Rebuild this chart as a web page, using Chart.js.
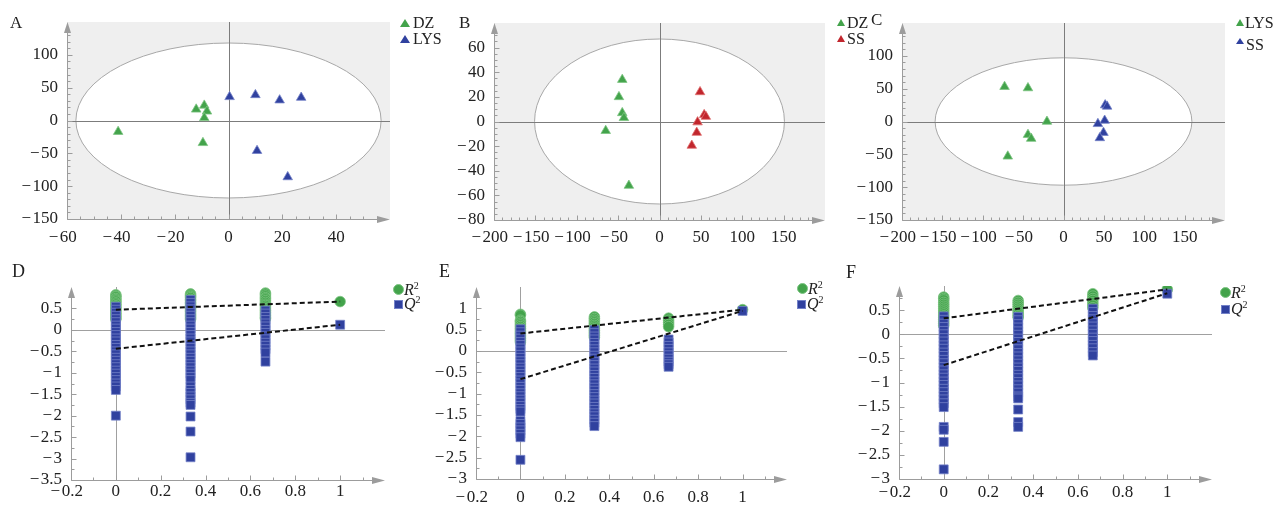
<!DOCTYPE html>
<html>
<head>
<meta charset="utf-8">
<title>Score plots and permutation tests</title>
<script src="https://cdn.jsdelivr.net/npm/chart.js@4.4.1/dist/chart.umd.min.js"></script>
<style>
  body { margin: 0; width: 1276px; height: 505px; background: #fff; position: relative; overflow: hidden; }
  canvas { position: absolute; }
  .txt { position: absolute; line-height: 1; white-space: nowrap; color: #222;
         font-family: "Liberation Serif", "Times New Roman", serif; }
  .txt sup { font-size: 10px; line-height: 0; vertical-align: 6px; font-style: normal; }
  .mk { position: absolute; box-sizing: border-box; }
</style>
</head>
<body>
<script>
// ---- score plots, values ----
const aDZ  = [[-41, -17], [-12, 17], [-9, 23], [-8, 14], [-9, 4], [-9.5, -34]];
const aLYS = [[0.4, 36], [10, 39], [19, 31], [27, 35], [10.6, -46], [22, -86]];
const bDZ  = [[-45, 34], [-49, 20], [-45, 7], [-43, 3], [-65, -7.5], [-37, -52]];
const bSS  = [[49, 24], [54, 5.4], [56, 4], [46, -0.5], [45, -9], [39, -19.5]];
const cLYS = [[-73, 53], [-44, 51], [-20.5, 0], [-44, -20], [-40, -26], [-69, -53]];
const cSS  = [[51.6, 25], [54, 23], [51, 1.5], [42.6, -3.5], [49.5, -17], [45, -25]];

// Hotelling T2 ellipse half axes (x, y)
const aEllipse = [56.7, 118];
const bEllipse = [151, 67];
const cEllipse = [159, 97];

// ---- permutation tests ----
const permX = [0, 0.333, 0.667, 1];

const dR2 = [
  [0.82, 0.79, 0.77, 0.73, 0.7, 0.67, 0.63, 0.6, 0.56, 0.53, 0.49, 0.46, 0.42, 0.38, 0.35, 0.31, 0.28, 0.25],
  [0.84, 0.81, 0.78, 0.75, 0.71, 0.68, 0.64, 0.61, 0.57, 0.53, 0.5, 0.46, 0.43, 0.39, 0.35, 0.32, 0.28, 0.25],
  [0.86, 0.83, 0.79, 0.75, 0.72, 0.68, 0.64, 0.6, 0.57, 0.53, 0.49, 0.45, 0.41, 0.37, 0.33, 0.29, 0.26],
  [0.66]
];
const dQ2 = [
  [0.54, 0.47, 0.4, 0.33, 0.25, 0.18, 0.1, 0.03, -0.05, -0.12, -0.2, -0.27, -0.35, -0.42, -0.5, -0.57, -0.65,
   -0.72, -0.8, -0.87, -0.95, -1.02, -1.1, -1.17, -1.25, -1.32, -1.4, -2.0],
  [0.7, 0.63, 0.55, 0.48, 0.4, 0.33, 0.25, 0.18, 0.1, 0.03, -0.05, -0.12, -0.2, -0.27, -0.35, -0.42, -0.5, -0.57,
   -0.65, -0.72, -0.8, -0.87, -0.95, -1.02, -1.1, -1.17, -1.32, -1.4, -1.47, -1.55, -1.62, -1.7, -1.75,
   -2.02, -2.37, -2.97],
  [0.45, 0.38, 0.3, 0.23, 0.15, 0.08, 0, -0.07, -0.15, -0.22, -0.3, -0.37, -0.45, -0.53, -0.74],
  [0.12]
];
const dR2Line = [[0, 0.47], [1, 0.66]];
const dQ2Line = [[0, -0.44], [1, 0.12]];

const eR2 = [
  [0.86, 0.84, 0.72, 0.69, 0.65, 0.61, 0.57, 0.53, 0.49, 0.45, 0.41, 0.37, 0.33, 0.29, 0.25, 0.21],
  [0.8, 0.76, 0.72, 0.68, 0.64, 0.6, 0.56, 0.52, 0.48, 0.44, 0.4, 0.36, 0.32],
  [0.77, 0.72, 0.67, 0.62, 0.57],
  [0.97]
];
const eQ2 = [
  [0.51, 0.44, 0.36, 0.29, 0.21, 0.14, 0.06, -0.01, -0.09, -0.16, -0.24, -0.31, -0.39, -0.46, -0.54, -0.61,
   -0.69, -0.76, -0.84, -0.91, -0.99, -1.06, -1.14, -1.21, -1.29, -1.36, -1.42, -1.64, -1.71, -1.79, -1.86,
   -1.94, -2.02, -2.55],
  [0.49, 0.42, 0.34, 0.27, 0.19, 0.12, 0.04, -0.03, -0.11, -0.18, -0.26, -0.33, -0.41, -0.48, -0.56, -0.63,
   -0.71, -0.78, -0.86, -0.93, -1.01, -1.08, -1.16, -1.23, -1.31, -1.38, -1.46, -1.53, -1.61, -1.68, -1.76],
  [0.27, 0.2, 0.12, 0.05, -0.03, -0.1, -0.18, -0.25, -0.31, -0.37],
  [0.94]
];
const eR2Line = [[0, 0.41], [1, 0.97]];
const eQ2Line = [[0, -0.66], [1, 0.94]];

const fR2 = [
  [0.77, 0.74, 0.71, 0.66, 0.62, 0.58, 0.54, 0.5, 0.46, 0.42, 0.38, 0.34, 0.3, 0.26, 0.22, 0.18],
  [0.7, 0.66, 0.62, 0.58, 0.54, 0.5, 0.46, 0.42, 0.38, 0.35],
  [0.84, 0.79, 0.74, 0.7, 0.65, 0.6, 0.55],
  [0.93]
];
const fQ2 = [
  [0.37, 0.3, 0.22, 0.15, 0.07, 0, -0.08, -0.15, -0.23, -0.3, -0.38, -0.45, -0.53, -0.6, -0.68, -0.75, -0.83,
   -0.9, -0.98, -1.05, -1.13, -1.2, -1.28, -1.35, -1.43, -1.51, -1.92, -1.98, -2.23, -2.8],
  [0.36, 0.29, 0.21, 0.14, 0.06, -0.01, -0.09, -0.16, -0.24, -0.31, -0.39, -0.46, -0.54, -0.61, -0.69, -0.76,
   -0.84, -0.91, -0.99, -1.06, -1.14, -1.21, -1.29, -1.33, -1.56, -1.82, -1.92],
  [0.53, 0.46, 0.38, 0.31, 0.23, 0.16, 0.08, 0.01, -0.07, -0.14, -0.22, -0.29, -0.37, -0.44],
  [0.84]
];
const fR2Line = [[0, 0.33], [1, 0.93]];
const fQ2Line = [[0, -0.64], [1, 0.85]];

// ---- styling ----
const GREEN = '#43a34b', GREEN_EDGE = '#7cc482';
const BLUE = '#30419f', BLUE_EDGE = '#7482c8';
const RED = '#c1262d', RED_EDGE = '#e07070';
const SERIF = '"Liberation Serif", "Times New Roman", serif';

const pts = arr => arr.map(([x, y]) => ({ x, y }));
const cols = arr => arr.flatMap((col, i) => col.map(v => ({ x: permX[i], y: v })));

function tri(data, fill, edge) {
  return { data: pts(data), pointStyle: 'triangle', pointRadius: 5.5, backgroundColor: fill,
           borderColor: edge, borderWidth: 0.8 };
}
function permSets(r2, q2, r2Line, q2Line) {
  const dashed = line => ({ type: 'line', showLine: true, data: pts(line), borderColor: '#111',
                            borderWidth: 2, borderDash: [5, 3], pointRadius: 0, fill: false });
  return [
    dashed(q2Line),
    dashed(r2Line),
    { data: cols(q2), pointStyle: 'rect', pointRadius: 6.3, backgroundColor: BLUE, borderColor: BLUE_EDGE, borderWidth: 0.8 },
    { data: cols(r2), pointStyle: 'circle', pointRadius: 5.3, backgroundColor: GREEN, borderColor: GREEN_EDGE, borderWidth: 0.8 }
  ];
}

function tickText(v, max, isX) {
  if (Math.abs(v - max) < 1e-9) return '';
  const n = Math.round(v * 100) / 100;
  if (n < 0) return '\u2212\u200a' + String(-n) + (isX ? '\u2002' : '');
  return String(n);
}

// background, ellipse, zero lines and arrow axes with inward ticks
const deco = {
  id: 'panelDeco',
  beforeDatasetsDraw(chart, args, o) {
    const { ctx, chartArea: a, scales: { x, y } } = chart;
    ctx.save();
    if (o.ellipse) {
      ctx.fillStyle = '#efefef';
      ctx.fillRect(a.left, a.top, a.right - a.left, a.bottom - a.top);
      const cx = x.getPixelForValue(0), cy = y.getPixelForValue(0);
      const rx = x.getPixelForValue(o.ellipse[0]) - cx;
      const ry = cy - y.getPixelForValue(o.ellipse[1]);
      ctx.beginPath();
      ctx.ellipse(cx, cy, rx, ry, 0, 0, Math.PI * 2);
      ctx.fillStyle = '#fff';
      ctx.fill();
      ctx.strokeStyle = '#a8a8a8';
      ctx.lineWidth = 1;
      ctx.stroke();
    }
    const L = Math.round(a.left) + 0.5, B = Math.round(a.bottom) + 0.5;
    const x0 = Math.round(x.getPixelForValue(0)) + 0.5, y0 = Math.round(y.getPixelForValue(0)) + 0.5;
    ctx.strokeStyle = o.zeroColor;
    ctx.lineWidth = 1;
    ctx.beginPath();
    ctx.moveTo(x0, B); ctx.lineTo(x0, a.top);
    ctx.moveTo(L, y0); ctx.lineTo(a.right, y0);
    ctx.stroke();

    ctx.strokeStyle = '#9c9c9c';
    ctx.fillStyle = '#9c9c9c';
    ctx.beginPath();
    ctx.moveTo(L, B); ctx.lineTo(L, a.top + 6);
    ctx.moveTo(L, B); ctx.lineTo(a.right - 6, B);
    const each = (sc, major, minor, fn) => {
      const n = Math.round((sc.max - sc.min) / minor);
      for (let k = 0; k <= n; k++) {
        const v = sc.min + k * minor;
        const r = v / major;
        fn(v, Math.abs(r - Math.round(r)) < 1e-6);
      }
    };
    each(y, o.y[2], o.y[3], (v, major) => {
      const p = Math.round(y.getPixelForValue(v)) + 0.5;
      if (p < a.top + 12) return;
      ctx.moveTo(L, p); ctx.lineTo(L + (major ? 5 : 3), p);
    });
    each(x, o.x[2], o.x[3], (v, major) => {
      const p = Math.round(x.getPixelForValue(v)) + 0.5;
      if (p > a.right - 14) return;
      ctx.moveTo(p, B); ctx.lineTo(p, B - (major ? 5 : 3));
    });
    ctx.stroke();
    ctx.beginPath();
    ctx.moveTo(L, a.top); ctx.lineTo(L - 3.5, a.top + 11); ctx.lineTo(L + 3.5, a.top + 11);
    ctx.closePath(); ctx.fill();
    ctx.beginPath();
    ctx.moveTo(a.right, B); ctx.lineTo(a.right - 13, B - 3.5); ctx.lineTo(a.right - 13, B + 3.5);
    ctx.closePath(); ctx.fill();
    ctx.restore();
  }
};

// frame = canvas box, area = plot box (page px); x/y = [min, max, major, minor]
const panels = [
  { frame: [0, 0, 420, 250], area: [67, 22, 390, 219], x: [-60, 60, 20, 5], y: [-150, 150, 50, 10],
    xPad: 8, ellipse: aEllipse, zero: '#7c7c7c',
    sets: [tri(aDZ, GREEN, GREEN_EDGE), tri(aLYS, BLUE, BLUE_EDGE)] },
  { frame: [420, 0, 420, 250], area: [494, 23, 825, 220], x: [-200, 200, 50, 10], y: [-80, 80, 20, 5],
    xPad: 7, ellipse: bEllipse, zero: '#7c7c7c',
    sets: [tri(bDZ, GREEN, GREEN_EDGE), tri(bSS, RED, RED_EDGE)] },
  { frame: [840, 0, 436, 250], area: [902, 23, 1225, 220], x: [-200, 200, 50, 10], y: [-150, 150, 50, 10],
    xPad: 7, ellipse: cEllipse, zero: '#7c7c7c',
    sets: [tri(cLYS, GREEN, GREEN_EDGE), tri(cSS, BLUE, BLUE_EDGE)] },
  { frame: [0, 250, 420, 255], area: [71, 287, 385, 480], x: [-0.2, 1.2, 0.2, 0.1], y: [-3.5, 1, 0.5, 0.25],
    xPad: 1, zero: '#a0a0a0', sets: permSets(dR2, dQ2, dR2Line, dQ2Line) },
  { frame: [420, 250, 420, 255], area: [476, 287, 787, 479], x: [-0.2, 1.2, 0.2, 0.1], y: [-3, 1.5, 0.5, 0.25],
    xPad: 8, zero: '#a0a0a0', sets: permSets(eR2, eQ2, eR2Line, eQ2Line) },
  { frame: [840, 250, 436, 255], area: [899, 286, 1212, 479], x: [-0.2, 1.2, 0.2, 0.1], y: [-3, 1, 0.5, 0.25],
    xPad: 3, zero: '#a0a0a0', sets: permSets(fR2, fQ2, fR2Line, fQ2Line) }
];

function axis(s, isX, size, pad) {
  return {
    type: 'linear', min: s[0], max: s[1],
    afterFit: sc => { if (isX) sc.height = size; else sc.width = size; },
    grid: { display: false, drawTicks: false },
    border: { display: false },
    ticks: {
      stepSize: s[2], autoSkip: false, maxRotation: 0, padding: pad, color: '#222',
      font: { family: SERIF, size: 17 },
      callback: v => tickText(v, s[1], isX)
    }
  };
}

panels.forEach(p => {
  const [fx, fy, fw, fh] = p.frame, [l, t, r, b] = p.area;
  const cv = document.createElement('canvas');
  cv.width = fw; cv.height = fh;
  cv.style.left = fx + 'px'; cv.style.top = fy + 'px';
  document.body.appendChild(cv);
  new Chart(cv, {
    type: 'scatter',
    data: { datasets: p.sets },
    options: {
      responsive: false, animation: false, events: [],
      layout: { padding: { left: 0, top: t - fy, right: fx + fw - r, bottom: 0 } },
      plugins: {
        legend: { display: false }, tooltip: { enabled: false },
        panelDeco: { ellipse: p.ellipse || null, zeroColor: p.zero, x: p.x, y: p.y }
      },
      scales: { x: axis(p.x, true, fy + fh - b, p.xPad), y: axis(p.y, false, l - fx, 9) }
    },
    plugins: [deco]
  });
});

// ---- panel letters and legends (HTML text) ----
function addText(html, x, base, size) {
  const d = document.createElement('div');
  d.className = 'txt';
  d.style.left = x + 'px';
  d.style.top = (base - 0.8375 * size) + 'px';
  d.style.fontSize = size + 'px';
  d.innerHTML = html;
  document.body.appendChild(d);
}
function addMarker(shape, fill, cx, cy, s) {
  const m = document.createElement('span');
  m.className = 'mk';
  if (shape === 'tri') {
    m.style.width = '0'; m.style.height = '0';
    m.style.borderLeft = (s / 2) + 'px solid transparent';
    m.style.borderRight = (s / 2) + 'px solid transparent';
    m.style.borderBottom = (s * 0.85) + 'px solid ' + fill;
    m.style.left = (cx - s / 2) + 'px'; m.style.top = (cy - s * 0.425) + 'px';
  } else {
    m.style.width = s + 'px'; m.style.height = s + 'px';
    m.style.background = fill;
    m.style.border = '1px solid ' + (shape === 'circle' ? GREEN_EDGE : BLUE_EDGE);
    if (shape === 'circle') m.style.borderRadius = '50%';
    m.style.left = (cx - s / 2) + 'px'; m.style.top = (cy - s / 2) + 'px';
  }
  document.body.appendChild(m);
}

addText('A', 10, 28, 17);
addText('B', 459, 28, 17);
addText('C', 871, 25, 17);
addText('D', 12, 277, 18);
addText('E', 439, 277, 18);
addText('F', 846, 278, 18);

addMarker('tri', GREEN, 405, 23, 10); addText('DZ', 413, 28, 16);
addMarker('tri', BLUE, 405, 39, 10);  addText('LYS', 413, 44, 16);
addMarker('tri', GREEN, 841, 23, 9);  addText('DZ', 847, 28, 16);
addMarker('tri', RED, 841, 39, 9);    addText('SS', 847, 44, 16);
addMarker('tri', GREEN, 1240, 23, 9); addText('LYS', 1245, 28, 16);
addMarker('tri', BLUE, 1240, 41, 8);  addText('SS', 1246, 50, 16);

addMarker('circle', GREEN, 398, 289, 11); addText('<i>R</i><sup>2</sup>', 404, 295, 16);
addMarker('square', BLUE, 398, 304, 9);   addText('<i>Q</i><sup>2</sup>', 404, 309, 16);
addMarker('circle', GREEN, 802, 288, 11); addText('<i>R</i><sup>2</sup>', 808, 294, 16);
addMarker('square', BLUE, 801, 304, 9);   addText('<i>Q</i><sup>2</sup>', 807, 309, 16);
addMarker('circle', GREEN, 1225, 292, 11); addText('<i>R</i><sup>2</sup>', 1231, 298, 16);
addMarker('square', BLUE, 1225, 309, 9);   addText('<i>Q</i><sup>2</sup>', 1231, 314, 16);
</script>
</body>
</html>
